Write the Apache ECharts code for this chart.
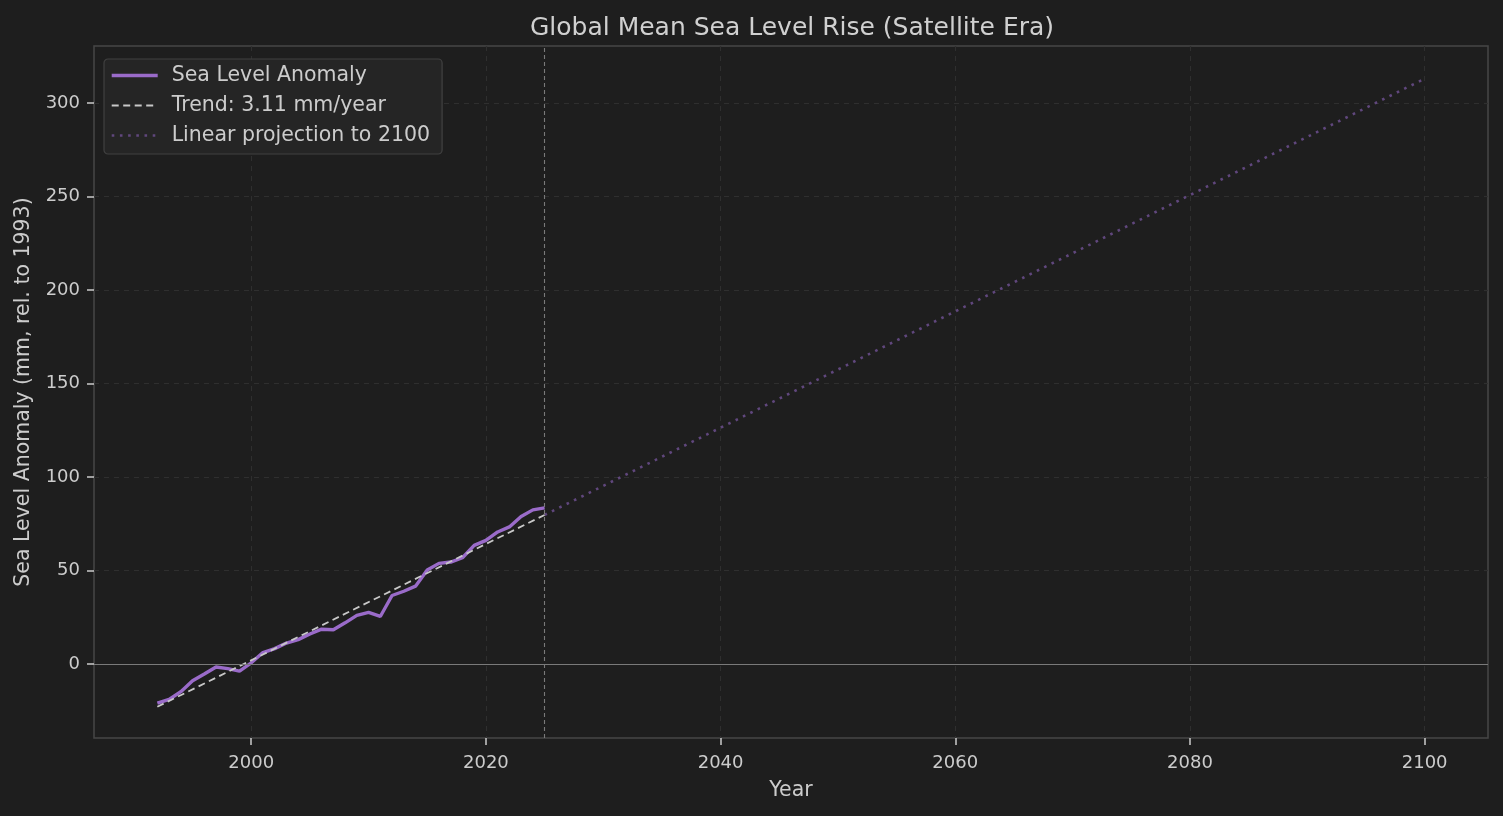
<!DOCTYPE html>
<html>
<head>
<meta charset="utf-8">
<script src="https://cdn.jsdelivr.net/npm/echarts@6/dist/echarts.min.js"></script>
<style>
html,body{margin:0;padding:0;background:#1e1e1e;}
#chart{width:1503px;height:816px;}
</style>
</head>
<body>
<div id="chart"></div>
<script>
// ---- data ----
const years = [1992,1993,1994,1995,1996,1997,1998,1999,2000,2001,2002,2003,2004,2005,2006,2007,2008,2009,2010,2011,2012,2013,2014,2015,2016,2017,2018,2019,2020,2021,2022,2023,2024,2025];
const anomaly = [-21,-19,-14.8,-9,-5.4,-1.6,-2.5,-3.8,0.6,6.1,8.2,11.2,13,16,18.6,18.3,22,26,27.6,25.4,36.6,38.9,41.6,50.2,53.8,54.5,56.8,63.4,66.1,70.6,73.3,78.9,82.4,83.5];
const trendYears = [1992, 2025];
const trendValues = [-22.9, 79.7];
const projYears = [2025, 2100];
const projValues = [79.7, 313];
const xTicks = [2000, 2020, 2040, 2060, 2080, 2100];
const yTicks = [0, 50, 100, 150, 200, 250, 300];
const lastObsYear = 2025;

const pair = (xs, ys) => xs.map((x, i) => [x, ys[i]]);
const font = 'DejaVu Sans';
const txt = '#cccccc';

const chart = echarts.init(document.getElementById('chart'));
chart.setOption({
  backgroundColor: '#1e1e1e',
  animation: false,
  textStyle: { fontFamily: font },
  title: {
    text: 'Global Mean Sea Level Rise (Satellite Era)',
    left: 787, top: 11, textAlign: 'center',
    textStyle: { color: '#d0d0d0', fontSize: 25, fontWeight: 'normal', fontFamily: font }
  },
  grid: { left: 94, right: 15, top: 46, bottom: 78, show: true, borderColor: '#474747', borderWidth: 1.5, backgroundColor: 'transparent' },
  legend: {
    orient: 'vertical', left: 104, top: 59,
    padding: [6, 12, 8, 6],
    backgroundColor: '#252525', borderColor: '#414141', borderWidth: 1.2, borderRadius: 4,
    itemWidth: 46, itemHeight: 14, itemGap: 9,
    itemStyle: { color: 'rgba(0,0,0,0)', borderWidth: 0, opacity: 0 },
    textStyle: { color: txt, fontSize: 20.5, fontFamily: font, padding: [0, 0, 0, 9] },
    data: [
      { name: 'Sea Level Anomaly', lineStyle: { width: 3.4, color: '#9a6bc9', type: 'solid' } },
      { name: 'Trend: 3.11 mm/year', lineStyle: { width: 1.8, color: '#c8c8c8', type: [7, 4.5] } },
      { name: 'Linear projection to 2100', lineStyle: { width: 2.6, color: '#60477d', type: [2.6, 5.6] } }
    ]
  },
  xAxis: {
    type: 'value', min: 1986.6, max: 2105.4,
    name: 'Year', nameLocation: 'middle', nameGap: 42,
    nameTextStyle: { color: txt, fontSize: 20.5, fontFamily: font },
    axisLine: { show: false, onZero: false },
    axisTick: { show: true, length: 7, customValues: xTicks, lineStyle: { color: '#cccccc', width: 1.5 } },
    axisLabel: { customValues: xTicks, color: txt, fontSize: 18, margin: 16, fontFamily: font, formatter: v => String(v) },
    splitLine: { show: true, lineStyle: { color: '#2f2f2f', type: [5, 5], width: 1.2 } }
  },
  yAxis: {
    type: 'value', min: -39.6, max: 330.5,
    name: 'Sea Level Anomaly (mm, rel. to 1993)', nameLocation: 'middle', nameGap: 60,
    nameTextStyle: { color: txt, fontSize: 20.5, fontFamily: font },
    axisLine: { show: false, onZero: false },
    axisTick: { show: true, length: 7, customValues: yTicks, lineStyle: { color: '#cccccc', width: 1.5 } },
    axisLabel: { customValues: yTicks, color: txt, fontSize: 18, margin: 14, fontFamily: font, formatter: v => String(v) },
    splitLine: { show: true, lineStyle: { color: '#2f2f2f', type: [5, 5], width: 1.2 } }
  },
  series: [
    {
      name: 'Linear projection to 2100', type: 'line', symbol: 'none', z: 2,
      data: pair(projYears, projValues),
      lineStyle: { color: '#60477d', width: 2.6, type: [2.6, 5.6] },
      itemStyle: { color: '#60477d' },
      markLine: {
        silent: true, symbol: 'none', label: { show: false },
        data: [
          { yAxis: 0, lineStyle: { color: '#7a7a7a', width: 1.2, type: 'solid' } },
          { xAxis: lastObsYear, lineStyle: { color: '#7a7a7a', width: 1.1, type: [4, 3] } }
        ]
      }
    },
    {
      name: 'Sea Level Anomaly', type: 'line', symbol: 'none', z: 3,
      data: pair(years, anomaly),
      lineStyle: { color: '#9a6bc9', width: 3.4 },
      itemStyle: { color: '#9a6bc9' }
    },
    {
      name: 'Trend: 3.11 mm/year', type: 'line', symbol: 'none', z: 4,
      data: pair(trendYears, trendValues),
      lineStyle: { color: '#c8c8c8', width: 1.8, type: [7, 4.5] },
      itemStyle: { color: '#c8c8c8' }
    }
  ]
});
</script>
</body>
</html>
